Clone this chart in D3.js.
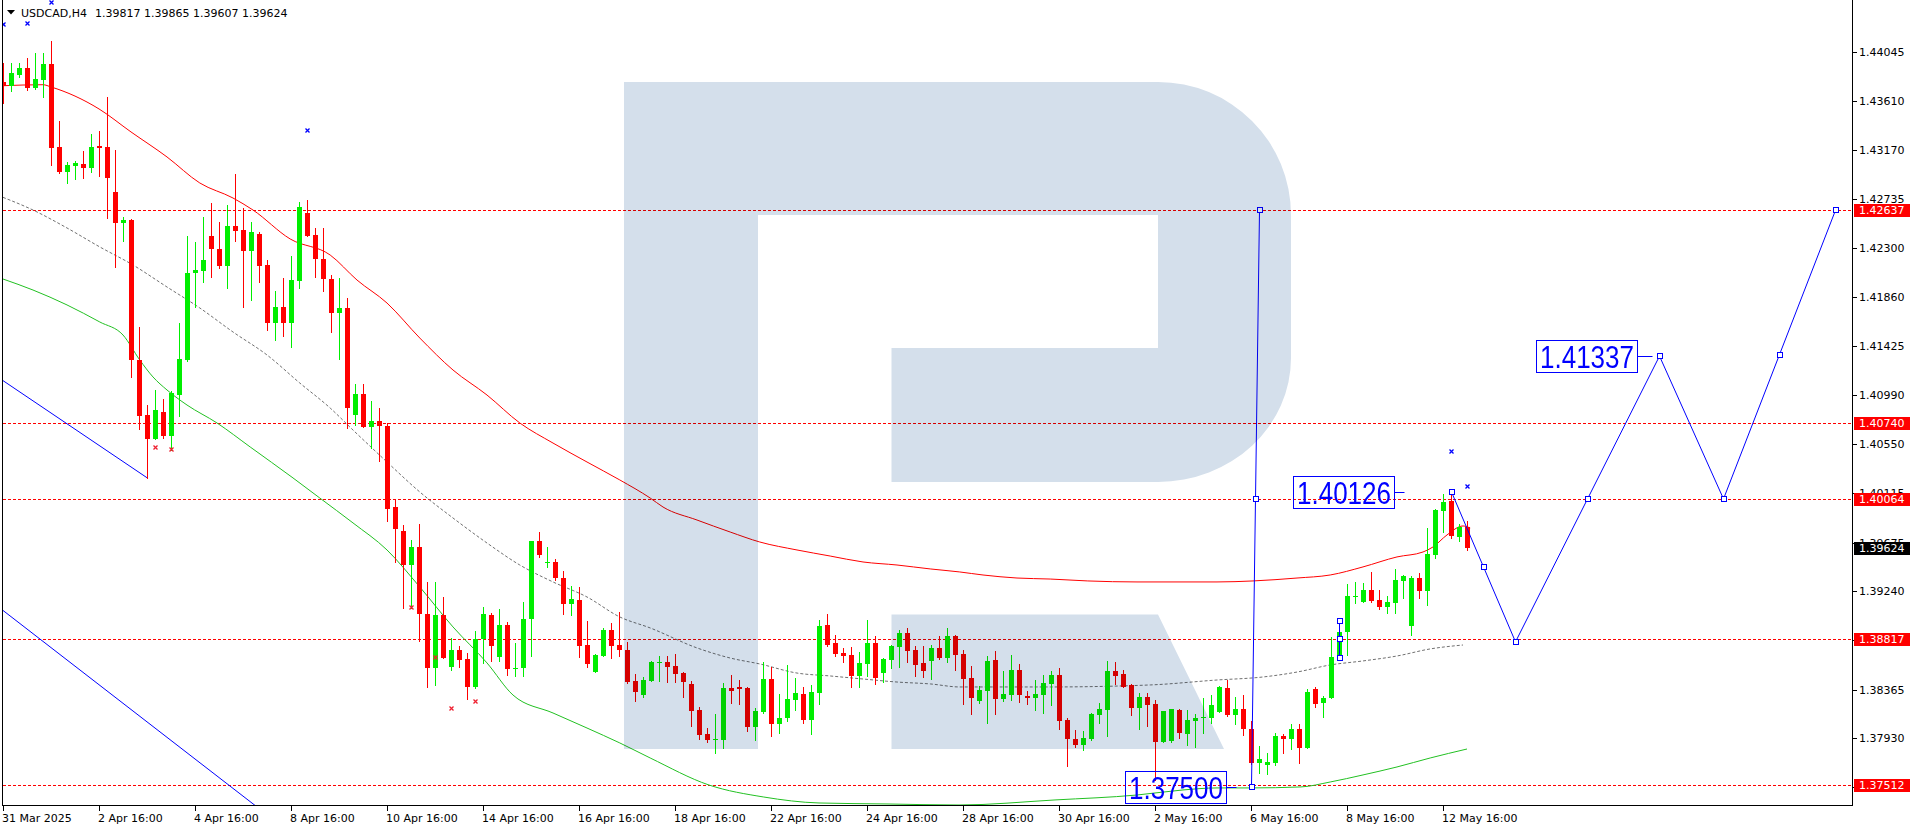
<!DOCTYPE html>
<html><head><meta charset="utf-8">
<script src="https://cdn.jsdelivr.net/npm/d3@7"></script>
<style>
html,body{margin:0;padding:0;background:#fff;overflow:hidden}
svg{display:block}
text{font-family:"DejaVu Sans",sans-serif;font-size:11px}
</style></head><body>
<svg id="c" width="1916" height="830"></svg>
<script>
// ---------------- DATA ----------------
const symbolTitle = "USDCAD,H4";
const lastOHLC = "1.39817 1.39865 1.39607 1.39624";

const candleO = [1.43783,1.43745,1.43843,1.43908,1.43729,1.43798,1.43943,1.43201,1.42981,1.43034,1.43049,1.43016,1.43210,1.43201,1.42800,1.42526,1.42550,1.41302,1.40812,1.40598,1.40842,1.40625,1.40990,1.41302,1.42075,1.42098,1.42408,1.42292,1.42143,1.42497,1.42461,1.42277,1.42425,1.42149,1.41629,1.41777,1.41629,1.42009,1.42615,1.42416,1.42203,1.42022,1.41724,1.41763,1.40812,1.40999,1.40708,1.40759,1.40717,1.39989,1.39781,1.39475,1.39638,1.39036,1.38554,1.39030,1.38563,1.38718,1.38635,1.38385,1.38813,1.39030,1.38658,1.38941,1.38546,1.38554,1.38991,1.39689,1.39490,1.39505,1.39362,1.39125,1.39163,1.38762,1.38524,1.38664,1.38896,1.38762,1.38718,1.38441,1.38317,1.38441,1.38602,1.38611,1.38575,1.38513,1.38415,1.38183,1.37969,1.37918,1.37918,1.38376,1.38388,1.38379,1.38031,1.38165,1.38459,1.38061,1.38114,1.38275,1.38325,1.38096,1.38337,1.38941,1.38780,1.38691,1.38673,1.38488,1.38595,1.38780,1.38515,1.38631,1.38747,1.38869,1.38718,1.38602,1.38622,1.38735,1.38649,1.38842,1.38682,1.38468,1.38266,1.38355,1.38629,1.38284,1.38317,1.38540,1.38308,1.38293,1.38317,1.38417,1.38495,1.38094,1.37924,1.37873,1.37924,1.38138,1.38183,1.38530,1.38504,1.38406,1.38203,1.38301,1.38236,1.37900,1.37906,1.38183,1.37971,1.38087,1.38109,1.38114,1.38168,1.38379,1.38138,1.38192,1.38013,1.37708,1.37695,1.37713,1.37951,1.37922,1.38011,1.37847,1.38367,1.38248,1.38293,1.38649,1.38881,1.39193,1.39148,1.39252,1.39163,1.39103,1.39139,1.39335,1.38934,1.39359,1.39246,1.39564,1.39959,1.40046,1.39727,1.39817];
const candleH = [1.43947,1.43952,1.43952,1.43997,1.44036,1.44041,1.44146,1.43433,1.43070,1.43076,1.43165,1.43314,1.43343,1.43644,1.43174,1.42580,1.42559,1.41599,1.40901,1.41035,1.40952,1.41026,1.41635,1.42408,1.42357,1.42580,1.42699,1.42535,1.42684,1.42960,1.42660,1.42535,1.42443,1.42194,1.41917,1.42036,1.42229,1.42713,1.42728,1.42476,1.42476,1.42060,1.42033,1.41852,1.41086,1.41086,1.40937,1.40877,1.40744,1.40061,1.39832,1.39698,1.39838,1.39321,1.39321,1.39187,1.38822,1.38756,1.38688,1.38887,1.39103,1.39050,1.39083,1.38970,1.38783,1.39148,1.39689,1.39772,1.39638,1.39529,1.39422,1.39288,1.39282,1.38979,1.38682,1.38911,1.38961,1.39059,1.38792,1.38504,1.38480,1.38620,1.38664,1.38664,1.38682,1.38521,1.38441,1.38207,1.38022,1.38147,1.38421,1.38492,1.38450,1.38388,1.38201,1.38611,1.38563,1.38325,1.38584,1.38468,1.38388,1.38406,1.38985,1.39038,1.38851,1.38736,1.38744,1.38697,1.38985,1.38842,1.38646,1.38762,1.38896,1.38914,1.38753,1.38753,1.38762,1.38842,1.38914,1.38848,1.38718,1.38575,1.38397,1.38664,1.38709,1.38530,1.38673,1.38593,1.38352,1.38450,1.38495,1.38530,1.38554,1.38111,1.38005,1.37996,1.38159,1.38242,1.38620,1.38613,1.38540,1.38415,1.38337,1.38337,1.38272,1.38177,1.38195,1.38189,1.38180,1.38147,1.38287,1.38317,1.38397,1.38450,1.38301,1.38317,1.38085,1.37862,1.37797,1.37975,1.37969,1.38058,1.38058,1.38367,1.38390,1.38307,1.38831,1.38914,1.39303,1.39321,1.39312,1.39413,1.39252,1.39199,1.39437,1.39386,1.39377,1.39401,1.39808,1.39972,1.40108,1.40126,1.39841,1.39865];
const candleL = [1.43596,1.43703,1.43827,1.43709,1.43718,1.43649,1.43040,1.42972,1.42877,1.42913,1.42922,1.42981,1.42942,1.42571,1.42134,1.42363,1.41154,1.40685,1.40253,1.40596,1.40604,1.40500,1.40803,1.41293,1.41777,1.42000,1.42045,1.42120,1.41947,1.42363,1.41777,1.41837,1.42000,1.41570,1.41481,1.41519,1.41421,1.41941,1.42410,1.42045,1.41920,1.41555,1.41311,1.40699,1.40723,1.40703,1.40515,1.40405,1.39870,1.39505,1.39089,1.39089,1.38798,1.38385,1.38406,1.38644,1.38540,1.38563,1.38278,1.38379,1.38604,1.38622,1.38622,1.38495,1.38486,1.38486,1.38667,1.39549,1.39460,1.39342,1.39036,1.39030,1.38658,1.38563,1.38517,1.38660,1.38644,1.38667,1.38421,1.38266,1.38296,1.38437,1.38441,1.38435,1.38432,1.38301,1.38043,1.37924,1.37900,1.37802,1.37841,1.38248,1.38236,1.37996,1.37918,1.38153,1.37951,1.37980,1.38088,1.38186,1.38070,1.37971,1.38239,1.38756,1.38667,1.38613,1.38390,1.38390,1.38488,1.38412,1.38435,1.38560,1.38569,1.38613,1.38488,1.38480,1.38462,1.38640,1.38613,1.38540,1.38236,1.38147,1.38248,1.38070,1.38150,1.38266,1.38272,1.38257,1.38236,1.38183,1.38159,1.38227,1.38013,1.37684,1.37856,1.37826,1.37915,1.38070,1.37954,1.38415,1.38390,1.38138,1.38011,1.38040,1.37560,1.37897,1.37900,1.37930,1.37871,1.37856,1.37980,1.38070,1.38168,1.38132,1.38058,1.37960,1.37701,1.37619,1.37612,1.37693,1.37802,1.37835,1.37713,1.37841,1.38212,1.38123,1.38287,1.38629,1.38673,1.39139,1.39145,1.39148,1.39083,1.39050,1.39050,1.39184,1.38851,1.39184,1.39119,1.39540,1.39772,1.39713,1.39692,1.39607];
const candleC = [1.43747,1.43863,1.43908,1.43729,1.43807,1.43943,1.43195,1.42978,1.43040,1.43061,1.43016,1.43201,1.43195,1.42927,1.42526,1.42550,1.41302,1.40803,1.40598,1.40857,1.40625,1.41006,1.41311,1.42075,1.42105,1.42194,1.42294,1.42143,1.42497,1.42455,1.42277,1.42443,1.42143,1.41629,1.41777,1.41629,1.42015,1.42663,1.42410,1.42200,1.42022,1.41724,1.41763,1.40877,1.40999,1.40708,1.40759,1.40717,1.39977,1.39793,1.39475,1.39638,1.39036,1.38554,1.39030,1.38649,1.38718,1.38629,1.38385,1.38813,1.39036,1.38756,1.38941,1.38546,1.38560,1.38991,1.39689,1.39564,1.39505,1.39357,1.39125,1.39172,1.38756,1.38593,1.38673,1.38896,1.38756,1.38718,1.38435,1.38346,1.38450,1.38611,1.38611,1.38569,1.38506,1.38435,1.38177,1.37960,1.37915,1.37927,1.38376,1.38355,1.38370,1.38031,1.38174,1.38459,1.38061,1.38112,1.38281,1.38334,1.38096,1.38343,1.38931,1.38765,1.38685,1.38667,1.38488,1.38602,1.38780,1.38471,1.38637,1.38756,1.38869,1.38712,1.38587,1.38533,1.38735,1.38649,1.38842,1.38676,1.38462,1.38293,1.38361,1.38620,1.38284,1.38325,1.38540,1.38317,1.38293,1.38325,1.38424,1.38495,1.38087,1.37927,1.37873,1.37933,1.38147,1.38192,1.38530,1.38488,1.38390,1.38203,1.38301,1.38230,1.37900,1.38174,1.38192,1.37975,1.38091,1.38112,1.38123,1.38225,1.38385,1.38138,1.38192,1.38011,1.37708,1.37743,1.37719,1.37951,1.37922,1.38011,1.37847,1.38341,1.38236,1.38287,1.38653,1.38881,1.39199,1.39202,1.39252,1.39154,1.39103,1.39145,1.39342,1.39380,1.39359,1.39246,1.39573,1.39965,1.40037,1.39736,1.39811,1.39624];

// moving averages (bar index, price)
const maRedIdx = [0,5,6,12,16,20.5,24.6,28.75,31.25,35.9,40.9,44.25,48,52.1,56.25,60.5,64.6,68.75,73,77.1,80.9,82.5,86.75,90.9,94.6,99.25,103.4,107.5,111.75,115.9,119.6,122.5,126.75,130.9,135.6,141.75,151.75,156.25,161.75,165.9,170,174.25,177.5,178.75,180.5,182.5,183.4];
const maRedVal = [1.43747,1.43756,1.43736,1.43540,1.43335,1.43112,1.42880,1.42746,1.42639,1.42381,1.42238,1.42015,1.41810,1.41498,1.41213,1.40990,1.40741,1.40562,1.40393,1.40233,1.40072,1.39992,1.39876,1.39769,1.39680,1.39609,1.39555,1.39502,1.39475,1.39440,1.39413,1.39386,1.39359,1.39350,1.39333,1.39324,1.39324,1.39333,1.39359,1.39386,1.39458,1.39547,1.39591,1.39636,1.39743,1.39823,1.39805];
const maGrayIdx = [0,3.75,8,12.1,16.25,20.5,24.6,28.75,33,37.1,40.9,43.75,48,52.1,56.25,60.5,64.6,68.75,73,77.1,80.9,86.75,90.9,94.6,99.25,103.4,107.5,111.75,115.9,119.6,130.9,143.4,151.75,157.5,161.75,165.9,170,174.25,178.4,182.5];
const maGrayVal = [1.42752,1.42639,1.42479,1.42310,1.42149,1.41953,1.41766,1.41552,1.41347,1.41097,1.40874,1.40678,1.40393,1.40126,1.39894,1.39671,1.39475,1.39324,1.39190,1.39012,1.38914,1.38736,1.38646,1.38593,1.38512,1.38486,1.38459,1.38432,1.38415,1.38388,1.38388,1.38406,1.38450,1.38477,1.38521,1.38584,1.38620,1.38664,1.38727,1.38762];
const maGreenIdx = [0,3.75,8,12.1,15,17.1,18.75,20.5,23,26.75,30.9,36.25,39.6,43.75,48,52.1,56.25,60.5,63.75,68.75,73,77.1,80.9,88.25,95.1,102,110.5,119.5,131.5,141.75,147.5,151.75,155.9,162.25,165.9,170,174.25,178.4,183];
const maGreenVal = [1.42024,1.41926,1.41793,1.41641,1.41525,1.41302,1.41151,1.41035,1.40901,1.40741,1.40527,1.40251,1.40072,1.39850,1.39609,1.39279,1.38923,1.38602,1.38316,1.38156,1.38022,1.37889,1.37755,1.37514,1.37407,1.37354,1.37345,1.37336,1.37381,1.37425,1.37470,1.37488,1.37488,1.37497,1.37541,1.37604,1.37675,1.37755,1.37835];

// blue trend lines (bottom left)
const chan1Idx = [-0.2, 18], chan1Val = [1.41128, 1.40253];
const chan2Idx = [-0.2, 31.6], chan2Val = [1.39081, 1.37327];

// horizontal levels
const levelVals = [1.42637, 1.40740, 1.40064, 1.38817, 1.37512];
const currentPrice = 1.39624;

// fractal marks
const upMarkIdx = [0, 3, 6, 38, 181, 183];
const upMarkVal = [1.44297, 1.44309, 1.44496, 1.43348, 1.40494, 1.40182];
const dnMarkIdx = [19, 21, 51, 54, 56, 59];
const dnMarkVal = [1.40530, 1.40506, 1.39104, 1.38658, 1.38203, 1.38266];

// forecast
const vertIdx = [156, 156.5, 157], vertVal = [1.37500, 1.40064, 1.42637];
const segIdx = [167, 167, 167], segVal = [1.38977, 1.38817, 1.38644];
const zigIdx = [181, 189, 207, 215, 229];
const zigVal = [1.40126, 1.38790, 1.41337, 1.40064, 1.42637];
const zigSqIdx = [181, 185, 189, 198, 207, 215, 222, 229];
const zigSqVal = [1.40126, 1.39458, 1.38790, 1.40064, 1.41337, 1.40064, 1.41350, 1.42637];
const fcLabelText = ["1.37500", "1.40126", "1.41337"];
const fcLabelIdx = [140.25, 161.25, 191.6];
const fcLabelVal = [1.37500, 1.40126, 1.41337];

// axes
const yTickVals = [1.44045,1.43610,1.43170,1.42735,1.42300,1.41860,1.41425,1.40990,1.40550,1.40115,1.39675,1.39240,1.38805,1.38365,1.37930,1.37495];
const xTickIdx = [0,12,24,36,48,60,72,84,96,108,120,132,144,156,168,180];
const xTickLabels = ["31 Mar 2025","2 Apr 16:00","4 Apr 16:00","8 Apr 16:00","10 Apr 16:00","14 Apr 16:00","16 Apr 16:00","18 Apr 16:00","22 Apr 16:00","24 Apr 16:00","28 Apr 16:00","30 Apr 16:00","2 May 16:00","6 May 16:00","8 May 16:00","12 May 16:00"];

// ---------------- DRAW ----------------
const W = 1916, H = 830;
const x = d3.scaleLinear().domain([0, 231]).range([3, 1851]);
const y = d3.scaleLinear().domain([1.37327, 1.44511]).range([806, 0]);
const px = i => Math.round(x(i)) + 0.5;
const py = v => Math.round(y(v)) + 0.5;
const fmt = d3.format('.5f');
const BLUE = '#0000ff', RED = '#ff0000', GREEN = '#00ee00';

const svg = d3.select('#c');
svg.append('rect').attr('width', W).attr('height', H).attr('fill', '#fff');
svg.append('defs').append('clipPath').attr('id', 'pc')
  .append('rect').attr('x', 3).attr('y', 0).attr('width', 1849).attr('height', 805);
const g = svg.append('g').attr('clip-path', 'url(#pc)');

// level lines
g.selectAll('line.lvl').data(levelVals).join('line').attr('class', 'lvl')
  .attr('x1', 3).attr('x2', 1852).attr('y1', d => py(d)).attr('y2', d => py(d))
  .attr('stroke', RED).attr('stroke-width', 1).attr('stroke-dasharray', '3,2')
  .attr('shape-rendering', 'crispEdges');

function drawSeries(idx, val, color, dash, curve) {
  const pts = idx.map((d, k) => [x(d), y(val[k])]);
  const ln = d3.line();
  if (curve) ln.curve(d3.curveMonotoneX);
  g.append('path').attr('d', ln(pts)).attr('fill', 'none')
    .attr('stroke', color).attr('stroke-width', 1)
    .attr('stroke-dasharray', dash || null);
}
drawSeries(maGreenIdx, maGreenVal, '#22c022', null, true);
drawSeries(maGrayIdx, maGrayVal, '#707070', '3,2', true);
drawSeries(maRedIdx, maRedVal, RED, null, true);
drawSeries(chan1Idx, chan1Val, BLUE, null, false);
drawSeries(chan2Idx, chan2Val, BLUE, null, false);

// candles
const bars = d3.range(candleO.length);
const cg = g.append('g').attr('shape-rendering', 'crispEdges');
const col = i => candleC[i] >= candleO[i] ? GREEN : RED;
cg.selectAll('line.wick').data(bars).join('line').attr('class', 'wick')
  .attr('x1', i => px(i)).attr('x2', i => px(i))
  .attr('y1', i => Math.round(y(candleH[i])))
  .attr('y2', i => Math.round(y(candleL[i])) + 1)
  .attr('stroke', col).attr('stroke-width', 1);
cg.selectAll('rect.body').data(bars).join('rect').attr('class', 'body')
  .attr('x', i => Math.round(x(i)) - 2).attr('width', 5)
  .attr('y', i => Math.round(y(Math.max(candleO[i], candleC[i]))))
  .attr('height', i => Math.max(1, Math.round(y(Math.min(candleO[i], candleC[i]))) - Math.round(y(Math.max(candleO[i], candleC[i])))))
  .attr('fill', col);

// fractal marks
function marks(idx, val, color) {
  g.append('g').selectAll('path').data(idx).join('path')
    .attr('d', (d, k) => {
      const cx = px(d), cy = py(val[k]);
      return `M${cx - 2},${cy - 2}L${cx + 2},${cy + 2}M${cx + 2},${cy - 2}L${cx - 2},${cy + 2}`;
    })
    .attr('stroke', color).attr('stroke-width', 1.3).attr('fill', 'none');
}
marks(upMarkIdx, upMarkVal, BLUE);
marks(dnMarkIdx, dnMarkVal, '#ee2030');

// forecast lines
function poly(idx, val) {
  g.append('path').attr('d', d3.line()(idx.map((d, k) => [x(d) + 0.5, y(val[k])])))
    .attr('fill', 'none').attr('stroke', BLUE).attr('stroke-width', 1);
}
function squares(idx, val) {
  g.append('g').selectAll('rect').data(idx).join('rect')
    .attr('x', d => Math.round(x(d)) - 2 + 0.5).attr('y', (d, k) => Math.round(y(val[k])) - 2.5)
    .attr('width', 5).attr('height', 5).attr('fill', '#fff').attr('stroke', BLUE).attr('stroke-width', 1);
}
poly(vertIdx, vertVal); squares(vertIdx, vertVal);
poly(segIdx, segVal); squares(segIdx, segVal);
poly(zigIdx, zigVal); squares(zigSqIdx, zigSqVal);

// forecast labels
const connLen = [10, 10, 15];
fcLabelText.forEach((t, k) => {
  const bx = Math.round(x(fcLabelIdx[k])) + 0.5, cy = Math.round(y(fcLabelVal[k]));
  const bw = 101, bh = 32, by = cy - 16 + 0.5;
  g.append('rect').attr('x', bx).attr('y', by).attr('width', bw).attr('height', bh)
    .attr('fill', 'none').attr('stroke', BLUE).attr('stroke-width', 1);
  g.append('text').attr('x', bx + 3.5).attr('y', by + bh - 5)
    .attr('fill', BLUE).style('font-family', '"Liberation Sans",Arial,sans-serif').style('font-size', '31px')
    .attr('textLength', 94).attr('lengthAdjust', 'spacingAndGlyphs').text(t);
  g.append('line').attr('x1', bx + bw).attr('x2', bx + bw + connLen[k])
    .attr('y1', cy + 0.5).attr('y2', cy + 0.5).attr('stroke', BLUE).attr('stroke-width', 1);
});

// RoboForex-like watermark (multiply layer)
const logo = "M624,82 L1158,82 A133,133 0 0 1 1291,215 L1291,358 A133,124 0 0 1 1158,482 L891.5,482 L891.5,348 L1158,348 L1158,215 L758,215 L758,749 L624,749 Z " +
             "M891.5,614.6 L1158,614.6 L1224,749 L891.5,749 Z";
g.append('path').attr('d', logo).attr('fill', 'rgb(212,223,235)').style('mix-blend-mode', 'multiply');

// frame
const fr = svg.append('g').attr('shape-rendering', 'crispEdges').attr('stroke', '#000').attr('stroke-width', 1);
fr.append('line').attr('x1', 2.5).attr('x2', 2.5).attr('y1', 0).attr('y2', 806);
fr.append('line').attr('x1', 1852.5).attr('x2', 1852.5).attr('y1', 0).attr('y2', 806);
fr.append('line').attr('x1', 2).attr('x2', 1853).attr('y1', 805.5).attr('y2', 805.5);

// right axis
const ra = svg.append('g');
ra.selectAll('line').data(yTickVals).join('line')
  .attr('x1', 1853).attr('x2', 1857).attr('y1', d => py(d)).attr('y2', d => py(d))
  .attr('stroke', '#000').attr('shape-rendering', 'crispEdges');
ra.selectAll('text').data(yTickVals).join('text')
  .attr('x', 1859).attr('y', d => Math.round(y(d)) + 4).attr('fill', '#000').text(d => fmt(d));

function priceBox(v, bg) {
  const cy = Math.round(y(v));
  svg.append('rect').attr('x', 1854).attr('y', cy - 6).attr('width', 56).attr('height', 13).attr('fill', bg);
  svg.append('text').attr('x', 1859).attr('y', cy + 4).attr('fill', '#fff').text(fmt(v));
}
levelVals.forEach(v => priceBox(v, RED));
priceBox(currentPrice, '#000');

// bottom axis
const ba = svg.append('g');
ba.selectAll('line').data(xTickIdx).join('line')
  .attr('x1', d => px(d)).attr('x2', d => px(d)).attr('y1', 806).attr('y2', 811)
  .attr('stroke', '#000').attr('shape-rendering', 'crispEdges');
ba.selectAll('text').data(xTickIdx).join('text')
  .attr('x', d => Math.round(x(d)) - 1).attr('y', 822).attr('fill', '#000')
  .text((d, k) => xTickLabels[k]);

// header
svg.append('path').attr('d', 'M7,10L15,10L11,14.5Z').attr('fill', '#000');
svg.append('text').attr('x', 21).attr('y', 17).attr('fill', '#000').text(symbolTitle);
svg.append('text').attr('x', 95).attr('y', 17).attr('fill', '#000').text(lastOHLC);
</script>
</body></html>
